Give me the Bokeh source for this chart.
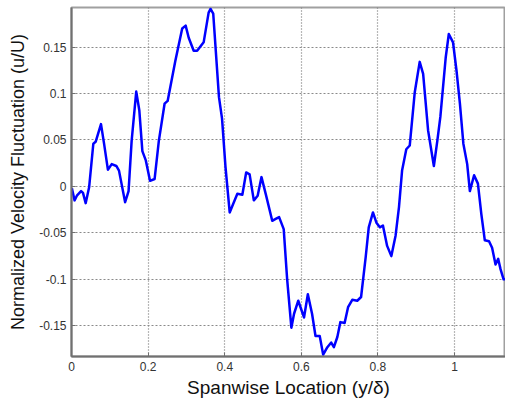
from bokeh.plotting import figure
from bokeh.models import Range1d, FixedTicker
from bokeh.embed import file_html
from bokeh.resources import INLINE

# Spanwise location (y/delta) and normalized velocity fluctuation (u/U)
span = [0.001, 0.008, 0.014, 0.025, 0.030, 0.037, 0.046, 0.057, 0.063, 0.077,
        0.085, 0.095, 0.105, 0.117, 0.124, 0.140, 0.149, 0.157, 0.169, 0.177,
        0.185, 0.194, 0.205, 0.217, 0.228, 0.243, 0.251, 0.271, 0.289, 0.298,
        0.306, 0.319, 0.328, 0.345, 0.358, 0.363, 0.370, 0.385, 0.393, 0.402,
        0.413, 0.422, 0.433, 0.446, 0.456, 0.465, 0.476, 0.486, 0.496, 0.507,
        0.524, 0.533, 0.542, 0.554, 0.563, 0.574, 0.581, 0.592, 0.607, 0.617,
        0.628, 0.637, 0.648, 0.657, 0.668, 0.678, 0.685, 0.694, 0.702, 0.713,
        0.722, 0.733, 0.746, 0.756, 0.768, 0.776, 0.787, 0.796, 0.805, 0.813,
        0.824, 0.835, 0.846, 0.855, 0.863, 0.874, 0.883, 0.896, 0.909, 0.918,
        0.931, 0.946, 0.955, 0.963, 0.977, 0.985, 0.996, 1.005, 1.014, 1.023,
        1.033, 1.040, 1.051, 1.061, 1.070, 1.079, 1.090, 1.098, 1.107, 1.114,
        1.120, 1.128, 1.133]
fluct = [-0.002, -0.015, -0.010, -0.005, -0.007, -0.018, -0.001, 0.046, 0.048, 0.067,
         0.046, 0.018, 0.024, 0.022, 0.017, -0.017, -0.005, 0.049, 0.102, 0.082,
         0.038, 0.028, 0.006, 0.008, 0.049, 0.089, 0.092, 0.135, 0.170, 0.173,
         0.160, 0.146, 0.146, 0.155, 0.187, 0.191, 0.186, 0.096, 0.073, 0.021,
         -0.028, -0.019, -0.008, -0.009, 0.015, 0.013, -0.015, -0.010, 0.010, -0.008,
         -0.037, -0.035, -0.033, -0.046, -0.100, -0.152, -0.137, -0.123, -0.141, -0.116,
         -0.137, -0.161, -0.161, -0.181, -0.173, -0.168, -0.173, -0.162, -0.146, -0.147,
         -0.130, -0.122, -0.123, -0.119, -0.076, -0.044, -0.028, -0.039, -0.044, -0.042,
         -0.064, -0.075, -0.053, -0.022, 0.017, 0.040, 0.044, 0.101, 0.134, 0.121,
         0.060, 0.022, 0.049, 0.075, 0.139, 0.164, 0.155, 0.125, 0.089, 0.046,
         0.024, -0.005, 0.012, 0.003, -0.030, -0.058, -0.059, -0.066, -0.084, -0.078,
         -0.089, -0.100, -0.100]

x_ticks = [0, 0.2, 0.4, 0.6, 0.8, 1.0]
x_tick_labels = ["0", "0.2", "0.4", "0.6", "0.8", "1"]
y_ticks = [-0.15, -0.1, -0.05, 0, 0.05, 0.1, 0.15]
y_tick_labels = ["-0.15", "-0.1", "-0.05", "0", "0.05", "0.1", "0.15"]

p = figure(width=505, height=403, output_backend="svg", toolbar_location=None,
           x_range=Range1d(0, 1.133), y_range=Range1d(-0.183, 0.1925),
           min_border_left=71, min_border_right=0, min_border_top=7,
           min_border_bottom=47)

p.line(span, fluct, line_color="#0000FF", line_width=2.5, line_join="round")

p.xaxis.ticker = FixedTicker(ticks=x_ticks)
p.yaxis.ticker = FixedTicker(ticks=y_ticks)
p.xaxis.major_label_overrides = {t: l for t, l in zip(x_ticks, x_tick_labels)}
p.yaxis.major_label_overrides = {t: l for t, l in zip(y_ticks, y_tick_labels)}

p.xaxis.axis_label = "Spanwise Location (y/\u03b4)"
p.yaxis.axis_label = "Normalized Velocity Fluctuation (u/U)"

for ax in (p.xaxis[0], p.yaxis[0]):
    ax.axis_label_text_font = "Liberation Sans"
    ax.axis_label_text_font_style = "normal"
    ax.axis_label_text_color = "#111111"
    ax.major_label_text_font = "Liberation Sans"
    ax.major_label_text_font_size = "12px"
    ax.major_label_text_color = "#333333"
    ax.axis_line_color = "#707070"
    ax.axis_line_width = 2
    ax.major_tick_line_color = "#707070"
    ax.major_tick_in = 4
    ax.major_tick_out = 0
    ax.minor_tick_line_color = None

p.xaxis.axis_label_text_font_size = "19px"
p.yaxis.axis_label_text_font_size = "18px"
p.xaxis.major_label_standoff = 5
p.xaxis.axis_label_standoff = 3
p.yaxis.major_label_standoff = 5
p.yaxis.axis_label_standoff = 8

p.xgrid.grid_line_color = "#707070"
p.xgrid.grid_line_dash = "1 2"
p.xgrid.grid_line_width = 1.2
p.ygrid.grid_line_color = "#8a8a8a"
p.ygrid.grid_line_dash = "2 2"
p.ygrid.grid_line_width = 1.2

p.outline_line_color = "#a0a0a0"
p.outline_line_width = 2
p.background_fill_color = "white"
p.border_fill_color = "white"

open("out.html", "w").write(file_html(p, INLINE))
